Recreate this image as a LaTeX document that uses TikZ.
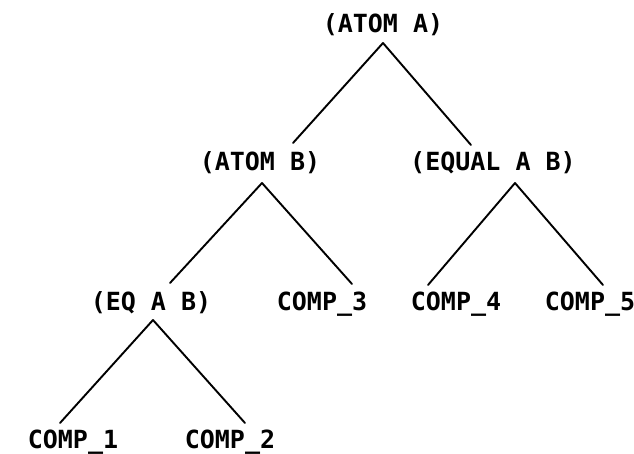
\documentclass[tikz,border=0pt]{standalone}
\usepackage{fontspec}
\setmonofont{DejaVu Sans Mono}
\begin{document}
\begin{tikzpicture}[x=1pt,y=-1pt,
  lbl/.style={inner sep=0pt,text height=17pt,text depth=0pt,
    font=\ttfamily\bfseries\fontsize{25}{25}\selectfont},
  edge/.style={line width=1.9pt,line cap=round}]
\useasboundingbox[fill=white] (0,0) rectangle (634,454);
\node[lbl] (A)  at (383,24)  {(ATOM A)};
\node[lbl] (B)  at (260,162) {(ATOM B)};
\node[lbl] (E)  at (493,162) {(EQUAL A B)};
\node[lbl] (EQ) at (151,302) {(EQ A B)};
\node[lbl] (C3) at (322,302) {COMP\_3};
\node[lbl] (C4) at (456,302) {COMP\_4};
\node[lbl] (C5) at (590,302) {COMP\_5};
\node[lbl] (C1) at (73,440)  {COMP\_1};
\node[lbl] (C2) at (230,440) {COMP\_2};
\draw[edge] ([yshift=-19pt]A.center) -- ([xshift=33pt,yshift=19pt]B.center);
\draw[edge] ([yshift=-19pt]A.center) -- ([xshift=-22pt,yshift=17pt]E.center);
\draw[edge] ([xshift=2pt,yshift=-21pt]B.center) -- ([xshift=19pt,yshift=19pt]EQ.center);
\draw[edge] ([xshift=2pt,yshift=-21pt]B.center) -- ([xshift=30pt,yshift=18pt]C3.center);
\draw[edge] ([xshift=22pt,yshift=-21pt]E.center) -- ([xshift=-28pt,yshift=17pt]C4.center);
\draw[edge] ([xshift=22pt,yshift=-21pt]E.center) -- ([xshift=13pt,yshift=17pt]C5.center);
\draw[edge] ([xshift=2pt,yshift=-18pt]EQ.center) -- ([xshift=-13pt,yshift=17pt]C1.center);
\draw[edge] ([xshift=2pt,yshift=-18pt]EQ.center) -- ([xshift=15pt,yshift=17pt]C2.center);
\end{tikzpicture}
\end{document}
